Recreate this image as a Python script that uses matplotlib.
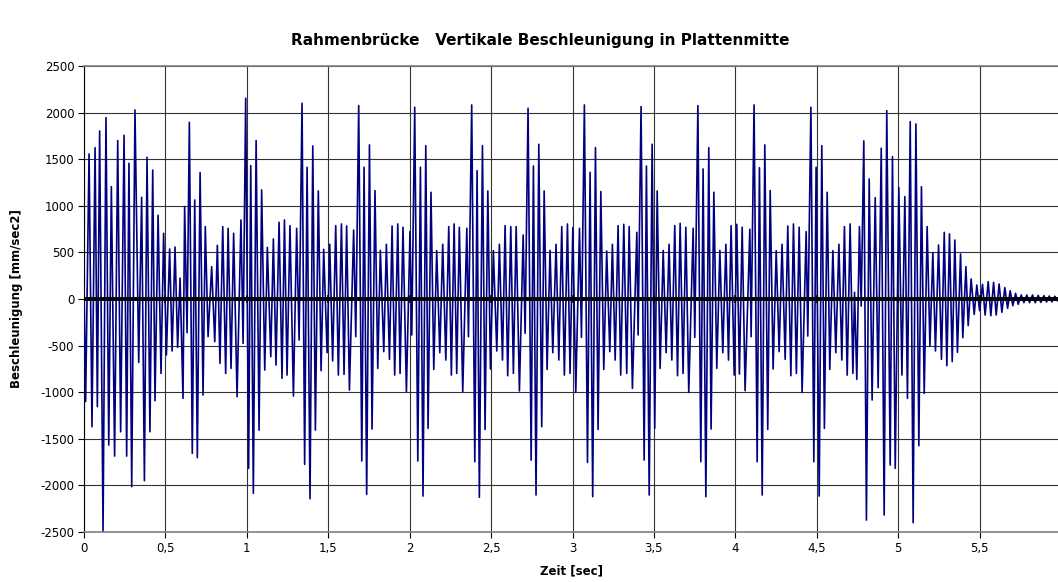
import matplotlib.pyplot as plt

# Zeitpunkte der Extrema [sec]
zeit = [
    0.000, 0.010, 0.031, 0.049, 0.068, 0.082, 0.096, 0.117, 0.135, 0.152,
    0.168, 0.188, 0.207, 0.225, 0.246, 0.262, 0.276, 0.293, 0.313, 0.336,
    0.354, 0.371, 0.387, 0.405, 0.422, 0.436, 0.455, 0.473, 0.489, 0.506,
    0.526, 0.541, 0.559, 0.575, 0.590, 0.608, 0.618, 0.633, 0.647, 0.665,
    0.680, 0.696, 0.713, 0.731, 0.745, 0.762, 0.784, 0.803, 0.819, 0.835,
    0.852, 0.870, 0.885, 0.903, 0.919, 0.940, 0.964, 0.977, 0.993, 1.011,
    1.024, 1.040, 1.057, 1.075, 1.091, 1.110, 1.126, 1.147, 1.163, 1.179,
    1.198, 1.216, 1.231, 1.247, 1.265, 1.286, 1.306, 1.321, 1.339, 1.355,
    1.370, 1.388, 1.405, 1.421, 1.439, 1.456, 1.472, 1.493, 1.509, 1.527,
    1.546, 1.562, 1.581, 1.597, 1.613, 1.630, 1.656, 1.669, 1.687, 1.706,
    1.720, 1.736, 1.753, 1.769, 1.787, 1.804, 1.820, 1.841, 1.857, 1.876,
    1.892, 1.908, 1.927, 1.941, 1.959, 1.980, 2.002, 2.013, 2.031, 2.050,
    2.066, 2.082, 2.099, 2.113, 2.131, 2.148, 2.166, 2.185, 2.203, 2.222,
    2.240, 2.256, 2.273, 2.289, 2.305, 2.326, 2.351, 2.361, 2.381, 2.400,
    2.414, 2.428, 2.447, 2.463, 2.480, 2.496, 2.514, 2.535, 2.551, 2.570,
    2.586, 2.602, 2.621, 2.637, 2.654, 2.674, 2.697, 2.709, 2.727, 2.746,
    2.760, 2.776, 2.793, 2.811, 2.826, 2.844, 2.862, 2.879, 2.899, 2.916,
    2.934, 2.950, 2.969, 2.985, 3.002, 3.020, 3.043, 3.055, 3.073, 3.092,
    3.108, 3.124, 3.141, 3.157, 3.174, 3.192, 3.210, 3.229, 3.245, 3.262,
    3.280, 3.296, 3.315, 3.333, 3.348, 3.368, 3.395, 3.403, 3.421, 3.440,
    3.454, 3.471, 3.489, 3.505, 3.520, 3.538, 3.557, 3.575, 3.593, 3.610,
    3.628, 3.645, 3.661, 3.679, 3.696, 3.714, 3.741, 3.751, 3.770, 3.788,
    3.802, 3.819, 3.837, 3.851, 3.868, 3.886, 3.905, 3.923, 3.942, 3.958,
    3.974, 3.993, 4.009, 4.025, 4.042, 4.060, 4.089, 4.097, 4.115, 4.134,
    4.148, 4.165, 4.181, 4.199, 4.214, 4.232, 4.251, 4.269, 4.287, 4.306,
    4.322, 4.341, 4.357, 4.375, 4.392, 4.410, 4.435, 4.445, 4.464, 4.482,
    4.496, 4.515, 4.531, 4.547, 4.564, 4.580, 4.599, 4.617, 4.636, 4.654,
    4.670, 4.687, 4.705, 4.722, 4.732, 4.746, 4.762, 4.773, 4.789, 4.805,
    4.822, 4.840, 4.859, 4.877, 4.896, 4.914, 4.930, 4.951, 4.965, 4.982,
    5.004, 5.023, 5.041, 5.057, 5.074, 5.092, 5.109, 5.127, 5.143, 5.160,
    5.178, 5.195, 5.213, 5.229, 5.248, 5.266, 5.283, 5.299, 5.315, 5.332,
    5.348, 5.364, 5.383, 5.397, 5.416, 5.430, 5.448, 5.467, 5.483, 5.500,
    5.518, 5.534, 5.553, 5.569, 5.586, 5.602, 5.620, 5.637, 5.655, 5.672,
    5.688, 5.704, 5.721, 5.737, 5.756, 5.772, 5.790, 5.807, 5.825, 5.842,
    5.860, 5.876, 5.895, 5.911, 5.928, 5.944, 5.962, 5.983, 6.000,
]

# Beschleunigung [mm/sec2] an diesen Zeitpunkten
beschleunigung = [
    130, -1100, 1556, -1370, 1624, -1155, 1803, -2486, 1946, -1567,
    1205, -1685, 1699, -1424, 1756, -1685, 1456, -2014, 2028, -680,
    1091, -1949, 1520, -1424, 1384, -1091, 898, -798, 705, -601,
    537, -558, 558, -519, 225, -1066, 991, -361, 1896, -1656,
    1062, -1703, 1356, -1030, 776, -404, 347, -458, 576, -690,
    776, -798, 758, -744, 705, -1048, 848, -476, 2153, -1817,
    1431, -2085, 1699, -1406, 1170, -762, 554, -619, 644, -708,
    823, -851, 848, -816, 787, -1041, 758, -440, 2100, -1774,
    1413, -2143, 1642, -1406, 1159, -769, 533, -576, 587, -665,
    787, -816, 805, -808, 783, -977, 740, -404, 2075, -1738,
    1413, -2096, 1653, -1395, 1163, -744, 522, -565, 587, -647,
    783, -816, 805, -798, 769, -994, 723, -386, 2057, -1738,
    1413, -2114, 1645, -1388, 1145, -755, 519, -576, 587, -655,
    776, -816, 805, -798, 769, -994, 758, -404, 2082, -1746,
    1377, -2128, 1645, -1399, 1159, -751, 519, -558, 587, -655,
    787, -823, 776, -798, 776, -987, 687, -368, 2046, -1728,
    1427, -2103, 1660, -1370, 1159, -755, 522, -576, 587, -655,
    776, -816, 805, -798, 766, -1002, 758, -411, 2082, -1753,
    1359, -2121, 1624, -1399, 1152, -755, 515, -565, 587, -655,
    787, -816, 801, -798, 776, -959, 715, -386, 2064, -1728,
    1427, -2103, 1660, -1388, 1159, -744, 522, -576, 587, -655,
    787, -823, 812, -798, 769, -1002, 758, -411, 2075, -1746,
    1395, -2121, 1624, -1395, 1145, -744, 522, -576, 587, -655,
    787, -816, 801, -805, 769, -984, 748, -404, 2082, -1746,
    1409, -2103, 1653, -1399, 1163, -751, 519, -565, 587, -647,
    783, -823, 805, -798, 769, -1002, 723, -397, 2057, -1746,
    1413, -2114, 1645, -1388, 1145, -755, 519, -576, 587, -655,
    776, -816, 805, -798, 72, -862, 776, -75, 1696, -2372,
    1288, -1084, 1087, -951, 1617, -2318, 2021, -1781, 1527, -1817,
    1195, -816, 1098, -1066, 1903, -2400, 1878, -1574, 1205, -1012,
    776, -504, 497, -558, 579, -647, 715, -715, 698, -672,
    633, -572, 483, -415, 347, -286, 215, -165, 150, -125,
    157, -172, 186, -179, 179, -172, 161, -143, 122, -100,
    89, -72, 61, -57, 43, -39, 43, -39, 43, -39,
    39, -36, 36, -32, 32, -32, 29, -25, 20,
]

x_ticks = [0, 0.5, 1, 1.5, 2, 2.5, 3, 3.5, 4, 4.5, 5, 5.5, 6]
x_labels = ["0", "0,5", "1", "1,5", "2", "2,5", "3", "3,5", "4", "4,5", "5", "5,5", "6"]
y_ticks = [-2500, -2000, -1500, -1000, -500, 0, 500, 1000, 1500, 2000, 2500]

plt.rcParams["font.family"] = ["DejaVu Sans"]

fig = plt.figure(figsize=(10.58, 5.82), dpi=100)
# plot area runs a little past the right edge, as in the original
ax = fig.add_axes([84 / 1058, 50 / 582, 977 / 1058, 466 / 582])

ax.plot(zeit, beschleunigung, color="#000080", lw=1.2, zorder=3)
ax.plot([x_ticks[0], x_ticks[-1]], [0, 0], color="black", lw=2.8, zorder=4)
ax.plot(x_ticks, [0] * len(x_ticks), ls="none", marker="|", ms=6, mew=1.2,
        color="black", zorder=4)

ax.set_xlim(0, 6)
ax.set_ylim(-2500, 2500)
ax.set_xticks(x_ticks)
ax.set_xticklabels(x_labels)
ax.set_yticks(y_ticks)
ax.set_yticklabels([str(v) for v in y_ticks])
ax.tick_params(labelsize=8.5, length=4, width=0.8, direction="out", pad=3)
ax.grid(True, color="#333333", lw=0.8)
ax.set_axisbelow(True)

for side in ["top", "bottom"]:
    ax.spines[side].set_color("#808080")
    ax.spines[side].set_linewidth(1.2)
ax.spines["left"].set_color("black")
ax.spines["right"].set_visible(False)

fig.text(0.511, 1 - 41 / 582, "Rahmenbrücke   Vertikale Beschleunigung in Plattenmitte",
         ha="center", va="center", fontsize=11, fontweight="bold")
fig.text(17 / 1058, 1 - 299 / 582, "Beschleunigung [mm/sec2]", rotation=90,
         ha="center", va="center", fontsize=8.5, fontweight="bold")
fig.text(571 / 1058, 1 - 571 / 582, "Zeit [sec]",
         ha="center", va="center", fontsize=8.5, fontweight="bold")

fig.savefig("out.png", dpi=100)
plt.close()
